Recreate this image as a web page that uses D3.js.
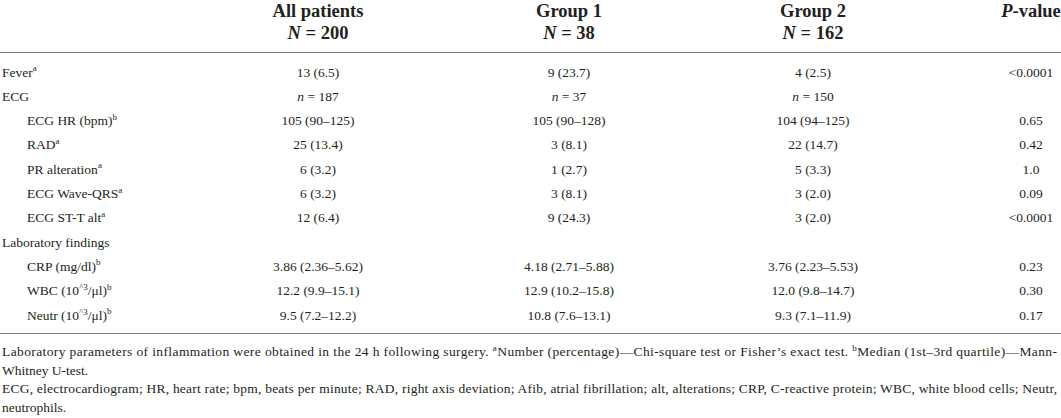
<!DOCTYPE html>
<html>
<head>
<meta charset="utf-8">
<script src="https://cdn.jsdelivr.net/npm/d3@7/dist/d3.min.js"></script>
<style>
  html, body { margin: 0; padding: 0; background: #fff; }
  svg { display: block; }
  text { font-family: "Liberation Serif", "Times New Roman", serif; fill: #231f20; }
</style>
</head>
<body>
<svg id="chart" width="1061" height="418"></svg>
<script>
// ---- data ----
const columnHeaders = ["All patients", "Group 1", "Group 2", "P-value"];
const columnCounts = ["200", "38", "162", ""];
const rowLabels = ["Fever", "ECG", "ECG HR (bpm)", "RAD", "PR alteration", "ECG Wave-QRS",
  "ECG ST-T alt", "Laboratory findings", "CRP (mg/dl)", "WBC (10^3/μl)", "Neutr (10^3/μl)"];
const rowIndent = [0, 0, 1, 1, 1, 1, 1, 0, 1, 1, 1];
const rowNote = ["a", "", "b", "a", "a", "a", "a", "", "b", "b", "b"];
const allPatients = ["13 (6.5)", "n = 187", "105 (90–125)", "25 (13.4)", "6 (3.2)", "6 (3.2)",
  "12 (6.4)", "", "3.86 (2.36–5.62)", "12.2 (9.9–15.1)", "9.5 (7.2–12.2)"];
const group1 = ["9 (23.7)", "n = 37", "105 (90–128)", "3 (8.1)", "1 (2.7)", "3 (8.1)",
  "9 (24.3)", "", "4.18 (2.71–5.88)", "12.9 (10.2–15.8)", "10.8 (7.6–13.1)"];
const group2 = ["4 (2.5)", "n = 150", "104 (94–125)", "22 (14.7)", "5 (3.3)", "3 (2.0)",
  "3 (2.0)", "", "3.76 (2.23–5.53)", "12.0 (9.8–14.7)", "9.3 (7.1–11.9)"];
const pValues = ["<0.0001", "", "0.65", "0.42", "1.0", "0.09", "<0.0001", "",
  "0.23", "0.30", "0.17"];
const footnotes = [
  [["Laboratory parameters of inflammation were obtained in the 24 h following surgery. ", ""], ["a", "sup"], ["Number (percentage)—Chi-square test or Fisher’s exact test. ", ""], ["b", "sup"], ["Median (1st–3rd quartile)—Mann-", ""]],
  [["Whitney U-test.", ""]],
  [["ECG, electrocardiogram; HR, heart rate; bpm, beats per minute; RAD, right axis deviation; Afib, atrial fibrillation; alt, alterations; CRP, C-reactive protein; WBC, white blood cells; Neutr,", ""]],
  [["neutrophils.", ""]]
];
const footJustify = [true, false, true, false];

// ---- layout ----
const W = 1061, H = 418;
const svg = d3.select("#chart");
const colKeys = ["all", "g1", "g2", "p"];
const colValues = { all: allPatients, g1: group1, g2: group2, p: pValues };
const x = d3.scaleOrdinal().domain(colKeys).range([318, 569, 813, 1031]);
const y = d3.scalePoint().domain(d3.range(rowLabels.length)).range([76.5, 319.5]);
const indent = d3.scaleOrdinal().domain([0, 1]).range([2, 27]);
const footY = d3.scalePoint().domain(d3.range(footnotes.length)).range([356, 412]);

const bodySize = 13.5;

// header
const hdr = svg.append("g");
colKeys.forEach((k, i) => {
  const t1 = hdr.append("text").attr("x", x(k)).attr("y", 17).attr("text-anchor", "middle")
    .attr("font-size", 18.5).attr("font-weight", "bold");
  if (columnHeaders[i] === "P-value") {
    t1.append("tspan").attr("font-style", "italic").text("P");
    t1.append("tspan").text("-value");
  } else {
    t1.text(columnHeaders[i]);
  }
  if (columnCounts[i]) {
    const t2 = hdr.append("text").attr("x", x(k)).attr("y", 39).attr("text-anchor", "middle")
      .attr("font-size", 18.5).attr("font-weight", "bold");
    t2.append("tspan").attr("font-style", "italic").text("N");
    t2.append("tspan").text(" = " + columnCounts[i]);
  }
});

// rules
const rule = (yy) => svg.append("line").attr("x1", 0).attr("x2", W).attr("y1", yy).attr("y2", yy)
  .attr("stroke", "#7f7f7f").attr("stroke-width", 1.2);
rule(52.5);
rule(333.5);

// row labels
function addLabel(sel, label) {
  const m = label.match(/^(.*\(10)\^3(\/μl\))$/);
  if (m) {
    sel.append("tspan").text(m[1]);
    sel.append("tspan").attr("font-size", 9).attr("dy", -5).text("^3");
    sel.append("tspan").attr("dy", 5).text(m[2]);
  } else {
    sel.append("tspan").text(label);
  }
}
const rows = svg.append("g").selectAll("g.row").data(rowLabels).join("g").attr("class", "row");
rows.each(function (label, i) {
  const g = d3.select(this);
  const t = g.append("text").attr("x", indent(rowIndent[i])).attr("y", y(i)).attr("font-size", bodySize);
  addLabel(t, label);
  if (rowNote[i]) t.append("tspan").attr("font-size", 9).attr("dy", -5.5).text(rowNote[i]);
  colKeys.forEach(k => {
    const v = colValues[k][i];
    if (!v) return;
    const c = g.append("text").attr("x", x(k)).attr("y", y(i)).attr("text-anchor", "middle")
      .attr("font-size", bodySize);
    const m = v.match(/^n = (.*)$/);
    if (m) {
      c.append("tspan").attr("font-style", "italic").text("n");
      c.append("tspan").text(" = " + m[1]);
    } else {
      c.text(v);
    }
  });
});

// footnotes
footnotes.forEach((parts, i) => {
  const t = svg.append("text").attr("x", 2).attr("y", footY(i)).attr("font-size", 13.5);
  let raised = false;
  parts.forEach(([s, kind]) => {
    const ts = t.append("tspan").text(s);
    if (kind === "sup") { ts.attr("font-size", 9).attr("dy", -5.5); raised = true; }
    else if (raised) { ts.attr("dy", 5.5); raised = false; }
  });
  if (footJustify[i]) t.attr("textLength", 1055).attr("lengthAdjust", "spacing");
});
</script>
</body>
</html>
